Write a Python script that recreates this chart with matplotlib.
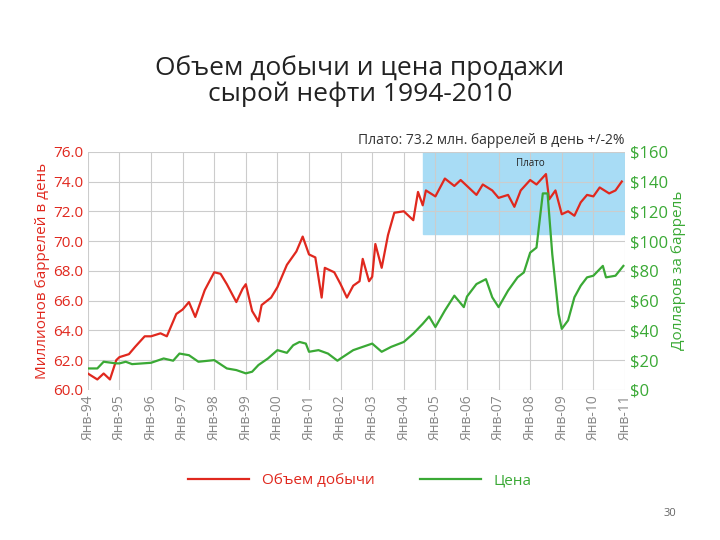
import numpy as np
import matplotlib.pyplot as plt

plt.rcParams['font.family'] = ['Open Sans', 'DejaVu Sans']

# добыча, млн баррелей в день
prod_t = [1994.0, 1994.3, 1994.5, 1994.7, 1994.9, 1995.0, 1995.3, 1995.5, 1995.8, 1996.0,
          1996.3, 1996.5, 1996.8, 1997.0, 1997.2, 1997.4, 1997.7, 1998.0, 1998.2, 1998.4,
          1998.7, 1998.9, 1999.0, 1999.2, 1999.4, 1999.5, 1999.8, 2000.0, 2000.3, 2000.6,
          2000.8, 2001.0, 2001.2, 2001.4, 2001.5, 2001.8, 2002.0, 2002.2, 2002.4, 2002.6,
          2002.7, 2002.9, 2003.0, 2003.1, 2003.3, 2003.5, 2003.7, 2004.0, 2004.3, 2004.45,
          2004.6, 2004.7, 2005.0, 2005.3, 2005.6, 2005.8, 2006.0, 2006.3, 2006.5, 2006.8,
          2007.0, 2007.3, 2007.5, 2007.7, 2008.0, 2008.2, 2008.5, 2008.6, 2008.8, 2009.0,
          2009.2, 2009.4, 2009.6, 2009.8, 2010.0, 2010.2, 2010.5, 2010.7, 2010.9]
prod_v = [61.1, 60.7, 61.1, 60.7, 62.0, 62.2, 62.4, 62.9, 63.6, 63.6,
          63.8, 63.6, 65.1, 65.4, 65.9, 64.9, 66.7, 67.9, 67.8, 67.1,
          65.9, 66.8, 67.1, 65.3, 64.6, 65.7, 66.2, 66.9, 68.4, 69.3,
          70.3, 69.1, 68.9, 66.2, 68.2, 67.9, 67.1, 66.2, 67.0, 67.3,
          68.8, 67.3, 67.6, 69.8, 68.2, 70.4, 71.9, 72.0, 71.4, 73.3,
          72.4, 73.4, 73.0, 74.2, 73.7, 74.1, 73.7, 73.1, 73.8, 73.4,
          72.9, 73.1, 72.3, 73.4, 74.1, 73.8, 74.5, 72.8, 73.4, 71.8,
          72.0, 71.7, 72.6, 73.1, 73.0, 73.6, 73.2, 73.4, 74.0]

# цена, $ за баррель
price_t = [1994.0, 1994.3, 1994.5, 1994.9, 1995.0, 1995.2, 1995.4, 1996.0, 1996.4, 1996.7,
           1996.9, 1997.2, 1997.5, 1998.0, 1998.4, 1998.7, 1999.0, 1999.2, 1999.4, 1999.7,
           2000.0, 2000.3, 2000.5, 2000.7, 2000.9, 2001.0, 2001.3, 2001.6, 2001.9, 2002.0,
           2002.4, 2002.7, 2003.0, 2003.3, 2003.6, 2004.0, 2004.3, 2004.6, 2004.8, 2005.0,
           2005.3, 2005.6, 2005.9, 2006.0, 2006.3, 2006.6, 2006.8, 2007.0, 2007.3, 2007.6,
           2007.8, 2008.0, 2008.2, 2008.4, 2008.55, 2008.7, 2008.9, 2009.0, 2009.2, 2009.4,
           2009.6, 2009.8, 2010.0, 2010.3, 2010.4, 2010.7, 2010.95]
price_v = [14.4, 14.4, 18.9, 17.8, 17.8, 18.9, 17.3, 18.2, 21.1, 19.6,
           24.4, 23.3, 18.9, 20.0, 14.4, 13.3, 11.1, 12.2, 16.7, 21.1,
           26.7, 24.9, 30.0, 32.2, 31.1, 25.6, 26.7, 24.4, 19.6, 21.1,
           26.7, 28.9, 31.1, 25.6, 28.9, 32.2, 37.8, 44.4, 49.3, 42.2,
           53.3, 63.3, 55.6, 62.7, 71.1, 74.4, 62.2, 55.6, 66.7, 75.6,
           78.9, 92.2, 95.6, 132.0, 132.0, 91.0, 51.0, 41.0, 46.7, 62.2,
           70.0, 75.6, 76.7, 83.3, 75.6, 76.7, 83.3]

years = list(range(1994, 2012))
year_labels = ['Янв-%02d' % (y % 100) for y in years]
left_ticks = [60, 62, 64, 66, 68, 70, 72, 74, 76]
right_ticks = [0, 20, 40, 60, 80, 100, 120, 140, 160]

red = '#e0281e'
green = '#3aa935'

fig = plt.figure(figsize=(7.2, 5.4), dpi=100)
ax = fig.add_axes([0.122, 0.278, 0.746, 0.441])
ax2 = ax.twinx()

ax.axvspan(2004.6, 2011, ymin=(70.5 - 60) / 16, ymax=1, color='#a8dcf5', zorder=0)
ax.text(2008.0, 75.2, 'Плато', fontsize=7, ha='center', va='center', color='#222222')

ax.plot(prod_t, prod_v, color=red, lw=1.6, zorder=3)
ax2.plot(price_t, price_v, color=green, lw=1.6)

ax.set_xlim(1994, 2011)
ax.set_ylim(60, 76)
ax2.set_ylim(0, 160)
ax.set_xticks(years)
ax.set_xticklabels(year_labels, rotation=90, fontsize=10, color='#888888')
ax.set_yticks(left_ticks)
ax.set_yticklabels(['%.1f' % v for v in left_ticks], fontsize=11, color=red)
ax2.set_yticks(right_ticks)
ax2.set_yticklabels(['$%d' % v for v in right_ticks], fontsize=12, color=green)
ax.grid(True, color='#cccccc', lw=0.8)
ax.set_axisbelow(True)
for a in (ax, ax2):
    for s in a.spines.values():
        s.set_visible(False)
    a.tick_params(length=0)
ax.set_ylabel('Миллионов баррелей в день', color=red, fontsize=11, labelpad=2)
ax2.set_ylabel('Долларов за баррель', color=green, fontsize=11, labelpad=2)

ax.text(1.0, 1.015, 'Плато: 73.2 млн. баррелей в день +/-2%', transform=ax.transAxes,
        ha='right', va='bottom', fontsize=10, color='#333333')

fig.text(0.5, 0.85, 'Объем добычи и цена продажи\nсырой нефти 1994-2010', ha='center',
         va='center', fontsize=19, color='#222222', linespacing=1.0)

# легенда
fig.legend(handles=[plt.Line2D([], [], color=red, lw=1.6, label='Объем добычи'),
                    plt.Line2D([], [], color=green, lw=1.6, label='Цена')],
           loc='center', bbox_to_anchor=(0.5, 0.11), ncol=2, frameon=False,
           fontsize=11, handlelength=4, columnspacing=3, labelcolor=[red, green])
fig.text(0.93, 0.045, '30', fontsize=8, color='#666666', ha='center')

fig.savefig('out.png', dpi=100)
